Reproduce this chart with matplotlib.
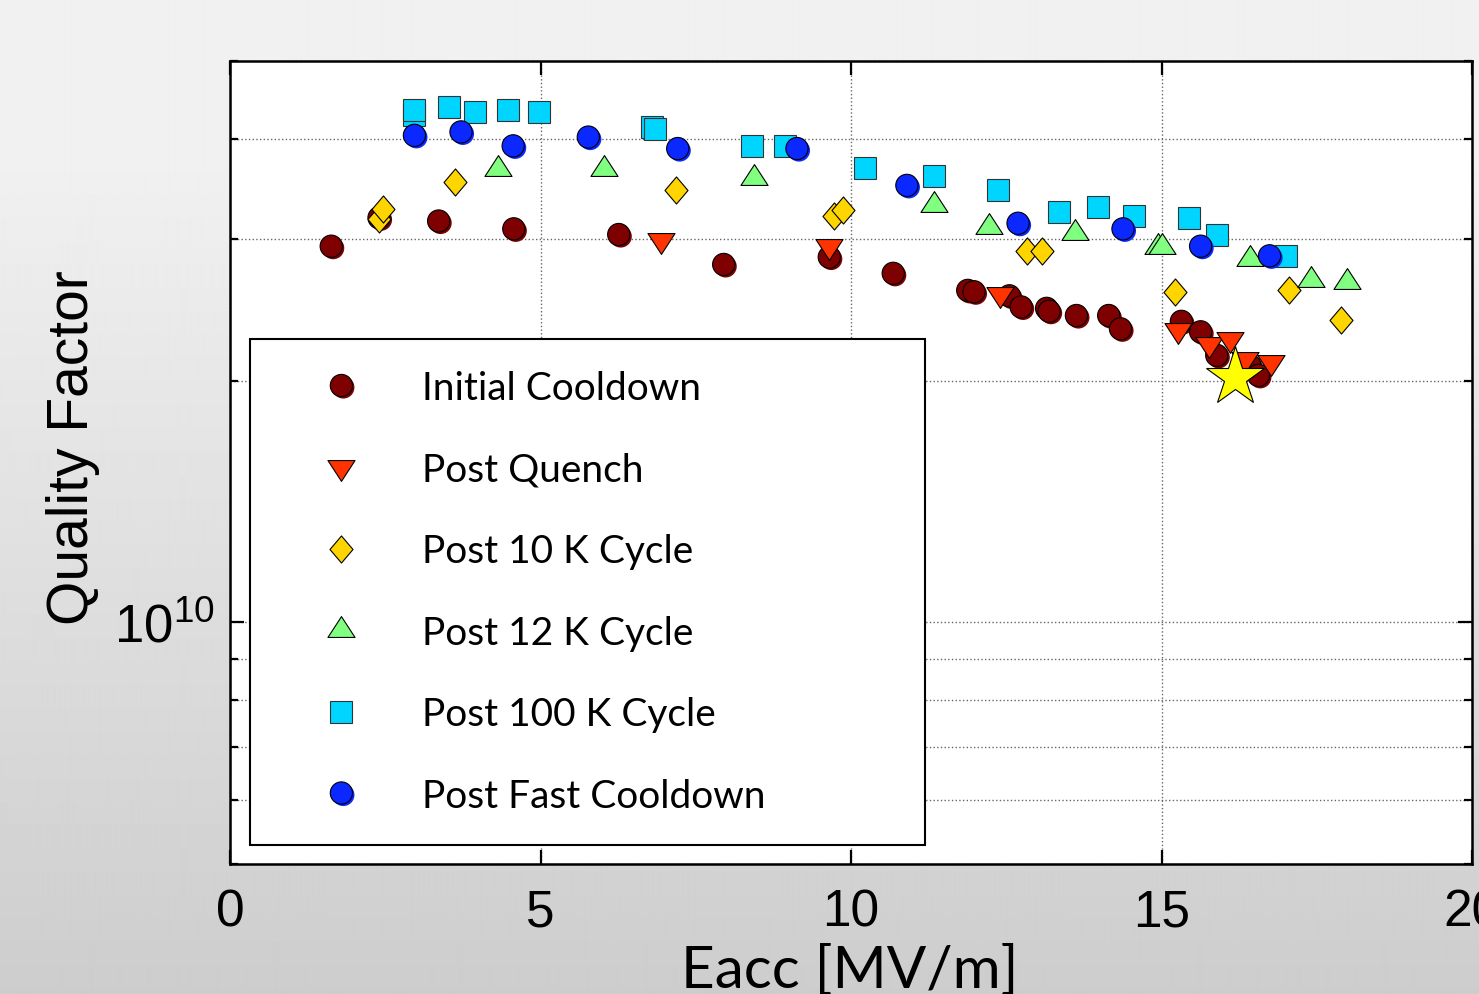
import numpy as np
import matplotlib
matplotlib.use("Agg")
import matplotlib.pyplot as plt
from matplotlib.path import Path
import matplotlib.patheffects as pe
from matplotlib.ticker import LogLocator, NullFormatter, FixedLocator

plt.rcParams['mathtext.fontset'] = 'custom'
plt.rcParams['mathtext.rm'] = 'Liberation Sans'
plt.rcParams['font.family'] = ['Liberation Sans', 'DejaVu Sans']

# ---------------- data ----------------
initial_x = [1.63, 2.40, 3.36, 4.57, 6.26, 7.95, 9.65, 10.68, 11.88, 11.98, 12.55,
             12.74, 13.15, 13.19, 13.63, 14.15, 14.34, 15.32, 15.63, 15.89, 16.42, 16.56]
initial_q = [2.94e10, 3.19e10, 3.16e10, 3.09e10, 3.04e10, 2.79e10, 2.85e10, 2.72e10,
             2.59e10, 2.58e10, 2.55e10, 2.47e10, 2.46e10, 2.44e10, 2.41e10, 2.41e10,
             2.32e10, 2.37e10, 2.30e10, 2.15e10, 2.09e10, 2.03e10]

quench_x = [6.94, 9.65, 12.40, 15.27, 15.77, 16.11, 16.35, 16.77]
quench_q = [2.99e10, 2.94e10, 2.56e10, 2.31e10, 2.22e10, 2.25e10, 2.13e10, 2.11e10]

k10_x = [2.40, 2.47, 3.63, 7.19, 9.72, 9.87, 12.84, 13.08, 15.21, 17.05, 17.89]
k10_q = [3.18e10, 3.27e10, 3.53e10, 3.45e10, 3.21e10, 3.26e10, 2.90e10, 2.90e10,
         2.58e10, 2.59e10, 2.38e10]

k12_x = [4.31, 6.03, 8.44, 11.34, 12.23, 13.61, 14.94, 15.00, 16.42, 17.40, 17.98]
k12_q = [3.67e10, 3.67e10, 3.58e10, 3.31e10, 3.11e10, 3.05e10, 2.93e10, 2.93e10,
         2.83e10, 2.67e10, 2.65e10]

k100_x = [2.97, 2.97, 3.53, 3.94, 4.48, 4.97, 6.79, 6.84, 8.40, 8.94, 10.23, 11.34,
          12.37, 13.35, 13.98, 14.55, 15.44, 15.89, 17.00]
k100_q = [4.28e10, 4.35e10, 4.38e10, 4.32e10, 4.35e10, 4.32e10, 4.14e10, 4.12e10,
          3.92e10, 3.92e10, 3.68e10, 3.60e10, 3.45e10, 3.24e10, 3.29e10, 3.21e10,
          3.19e10, 3.04e10, 2.86e10]

fast_x = [2.97, 3.72, 4.56, 5.77, 7.21, 9.13, 10.90, 12.69, 14.38, 15.63, 16.74]
fast_q = [4.04e10, 4.08e10, 3.92e10, 4.02e10, 3.89e10, 3.89e10, 3.50e10, 3.14e10,
          3.09e10, 2.94e10, 2.86e10]

star_x = [16.18]
star_q = [2.02e10]

labels = ["Initial Cooldown", "Post Quench", "Post 10 K Cycle", "Post 12 K Cycle",
          "Post 100 K Cycle", "Post Fast Cooldown"]
x_ticks = [0, 5, 10, 15, 20]

# ---------------- figure ----------------
W, H = 1479, 995
fig = plt.figure(figsize=(W / 100, H / 100), dpi=100)

# gradient background
bg = fig.add_axes([0, 0, 1, 1], zorder=-10)
rows = np.arange(H)
shade = np.interp(rows, [0, 150, H - 1], [241, 241, 205]) / 255.0
img = np.repeat(shade[:, None], 4, axis=1)
bg.imshow(img, aspect='auto', cmap='gray', vmin=0, vmax=1, extent=[0, 1, 0, 1],
          interpolation='bilinear')
bg.axis('off')

L, R, T, B = 230, 1472, 62, 865
ax = fig.add_axes([L / W, 1 - B / H, (R - L) / W, (B - T) / H])
ax.set_facecolor('white')
ax.set_yscale('log')
ax.set_xlim(0, 20)
ax.set_ylim(5e9, 5e10)

def shadow(c):
    return [pe.SimplePatchShadow(offset=(1.4, -1.4), shadow_rgbFace=c, alpha=1.0), pe.Normal()]

tri_down = Path([(-1.3, 0.667), (1.3, 0.667), (0, -1.333), (-1.3, 0.667)],
                [Path.MOVETO, Path.LINETO, Path.LINETO, Path.CLOSEPOLY])
tri_up = Path([(-1.3, -0.667), (1.3, -0.667), (0, 1.333), (-1.3, -0.667)],
              [Path.MOVETO, Path.LINETO, Path.LINETO, Path.CLOSEPOLY])
diamond = Path([(0, 1), (0.85, 0), (0, -1), (-0.85, 0), (0, 1)],
               [Path.MOVETO, Path.LINETO, Path.LINETO, Path.LINETO, Path.CLOSEPOLY])

c_init, c_quench, c_k10, c_k12, c_k100, c_fast = ('#7f0000', '#ff3300', '#ffd500',
                                                  '#80ff80', '#00d5ff', '#0a28ff')
ew = 0.8
h1, = ax.plot(initial_x, initial_q, ls='none', marker='o', ms=16, mfc=c_init, mec='black',
              mew=ew, path_effects=shadow(c_init), zorder=3)
h2, = ax.plot(quench_x, quench_q, ls='none', marker=tri_down, ms=20, mfc=c_quench,
              mec='black', mew=ew, zorder=3)
h3, = ax.plot(k10_x, k10_q, ls='none', marker=diamond, ms=19.5, mfc=c_k10, mec='black',
              mew=ew, zorder=3)
h4, = ax.plot(k12_x, k12_q, ls='none', marker=tri_up, ms=20, mfc=c_k12, mec='black',
              mew=ew, zorder=3)
h5, = ax.plot(k100_x, k100_q, ls='none', marker='s', ms=16, mfc=c_k100, mec='#333333',
              mew=ew, zorder=3)
h6, = ax.plot(fast_x, fast_q, ls='none', marker='o', ms=16, mfc=c_fast, mec='black',
              mew=ew, path_effects=shadow(c_fast), zorder=3)
ax.plot(star_x, star_q, ls='none', marker='*', ms=44, mfc='#ffff00', mec='black',
        mew=ew, zorder=4)

# axes styling
ax.xaxis.set_major_locator(FixedLocator(x_ticks))
ax.set_xticklabels([str(t) for t in x_ticks])
ax.yaxis.set_major_locator(LogLocator(base=10, subs=(1.0,)))
ax.yaxis.set_minor_locator(LogLocator(base=10, subs=np.arange(2, 10)))
ax.yaxis.set_minor_formatter(NullFormatter())
ax.minorticks_on()
ax.xaxis.set_minor_locator(FixedLocator([]))
ax.tick_params(which='both', direction='in', top=True, right=True, width=1.6, colors='black')
ax.tick_params(which='major', length=10)
ax.tick_params(which='minor', length=6)
ax.tick_params(axis='x', which='major', labelsize=37, pad=17)
ax.tick_params(axis='y', which='major', labelsize=38, pad=11)
for sp in ax.spines.values():
    sp.set_linewidth(1.8)
    sp.set_color('black')
ax.grid(True, which='major', axis='x', ls=':', lw=1.0, color='#666666')
ax.grid(True, which='both', axis='y', ls=':', lw=1.0, color='#666666')
ax.set_axisbelow(True)

# axis labels
fig.text(73 / W, 1 - 448 / H, 'Quality Factor', rotation=90, ha='center', va='center',
         fontsize=41, family=['Liberation Sans'])
fig.text(850 / W, 1 - 988 / H, 'Eacc [MV/m]', ha='center', va='baseline',
         fontsize=42, family=['Lato'])

# legend
lx0, lx1, ly0, ly1 = 250, 925, 340, 847
leg = ax.legend([h1, h2, h3, h4, h5, h6], labels, loc='upper left',
                bbox_to_anchor=(lx0 / W, 1 - ly1 / H, (lx1 - lx0) / W, (ly1 - ly0) / H),
                bbox_transform=fig.transFigure, mode='expand', borderaxespad=0,
                prop={'family': 'Lato', 'size': 28}, numpoints=1, handlelength=3.1,
                handletextpad=0.51, borderpad=0.8, labelspacing=1.17, fancybox=False,
                framealpha=1, edgecolor='black', facecolor='white')
leg.get_frame().set_linewidth(1.5)
leg.set_zorder(5)

fig.savefig('out.png', dpi=100)
